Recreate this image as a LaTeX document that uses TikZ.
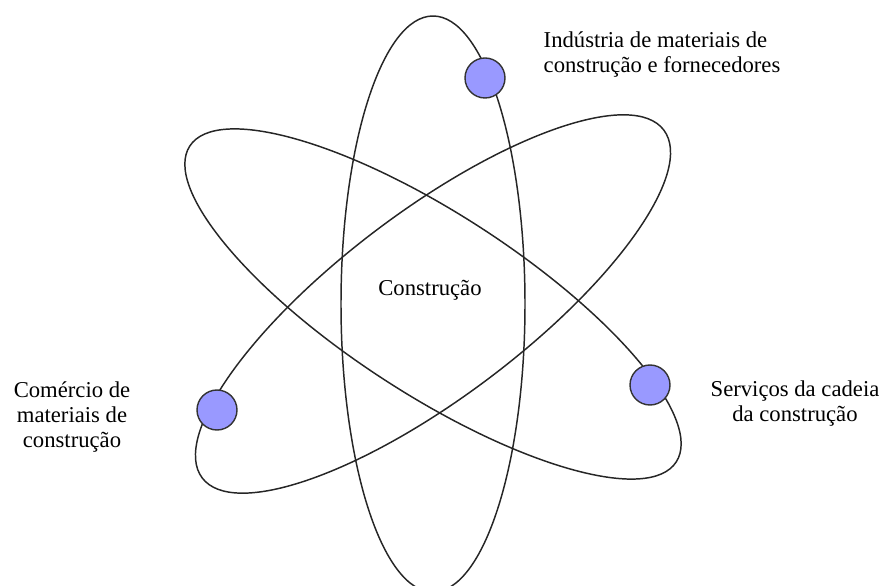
\documentclass[tikz,border=0pt]{standalone}
\usepackage{fontspec}
\setmainfont{Liberation Serif}
\definecolor{dotblue}{HTML}{9999FF}
\begin{document}
\begin{tikzpicture}[
  font=\fontsize{6.45}{7.1}\selectfont,
  orbit/.style={draw=black!85,line width=0.42pt},
  dot/.style={circle,draw=black!80,fill=dotblue,line width=0.4pt,
    minimum size=4mm,inner sep=0pt},
  lbl/.style={align=center,inner sep=0pt},
  lblw/.style={align=left,inner sep=0pt,anchor=west}]
\useasboundingbox (0,0) rectangle (8.83,5.86);
\coordinate (c) at (4.33,2.82);
% orbits
\begin{scope}[shift={(c)}]
  \draw[orbit] (0,0) ellipse [x radius=0.92, y radius=2.88];
  \draw[orbit,rotate=-33] (0,0) ellipse [x radius=2.90, y radius=0.90];
  \draw[orbit,rotate=37] (0,0) ellipse [x radius=2.89, y radius=0.93];
\end{scope}
% dots on the orbits
\node[dot] (ind) at (4.85,5.08) {};
\node[dot] (com) at (2.17,1.76) {};
\node[dot] (ser) at (6.50,2.01) {};
% labels
\node[lbl] (centro) at (4.30,2.96) {Construção};
\node[lblw] (indlbl) at (5.43,5.31) {Indústria de materiais de\\construção e fornecedores};
\node[lbl] (comlbl) at (0.72,1.69) {Comércio de\\materiais de\\construção};
\node[lbl] (serlbl) at (7.95,1.82) {Serviços da cadeia\\da construção};
\end{tikzpicture}
\end{document}
